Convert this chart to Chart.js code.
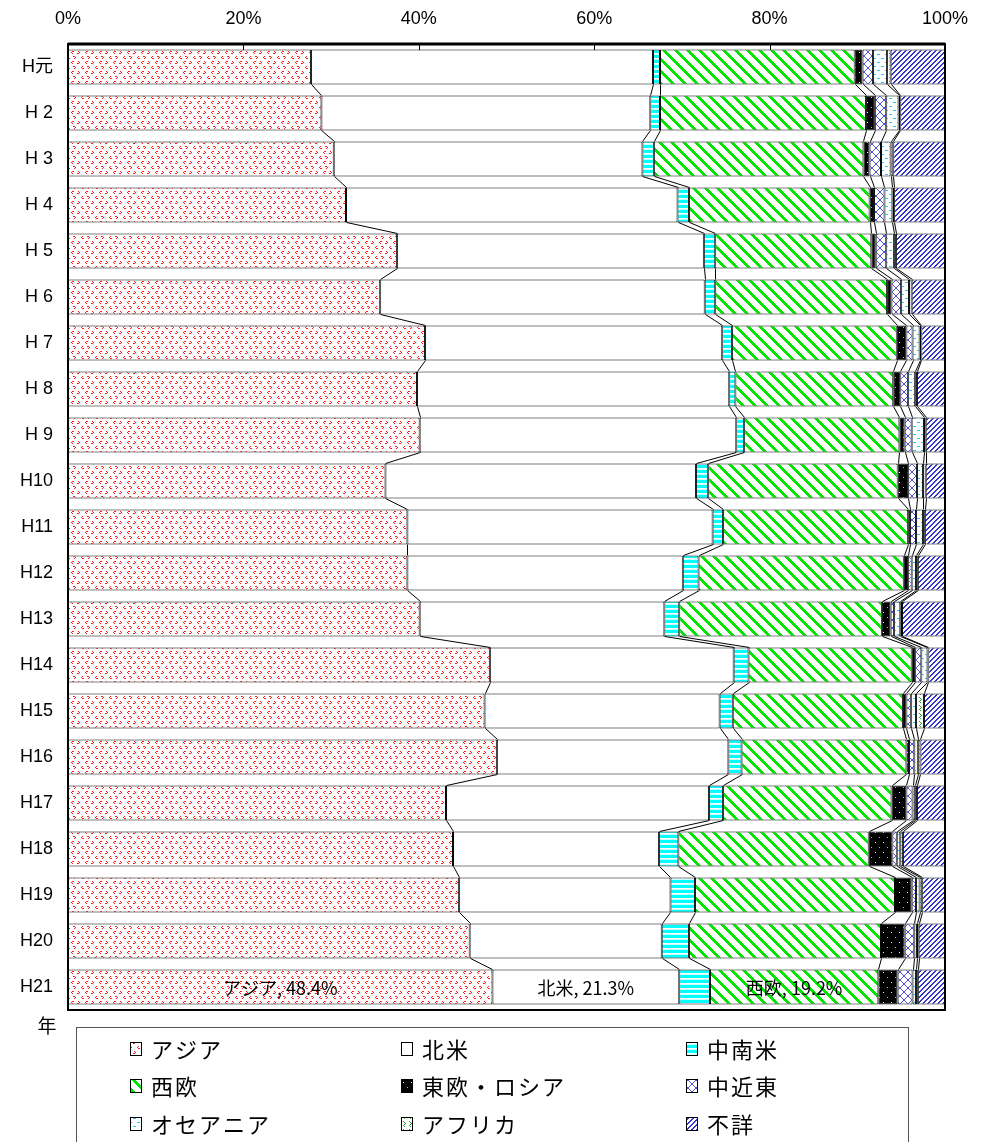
<!DOCTYPE html>
<html>
<head>
<meta charset="utf-8">
<script src="https://cdn.jsdelivr.net/npm/chart.js@4.4.1/dist/chart.umd.min.js"></script>
<style>
  html, body { margin: 0; padding: 0; background: #ffffff; }
  canvas { display: block; }
</style>
</head>
<body>
<canvas id="c" width="989" height="1142"></canvas>
<script>
// ---------------- DATA ----------------
const categories = ['H元','H 2','H 3','H 4','H 5','H 6','H 7','H 8','H 9','H10','H11','H12','H13','H14','H15','H16','H17','H18','H19','H20','H21'];
const seriesNames = ['アジア','北米','中南米','西欧','東欧・ロシア','中近東','オセアニア','アフリカ','不詳'];
const xTickValues = [0, 20, 40, 60, 80, 100];

const asia          = [27.7,28.9,30.3,31.7,37.5,35.6,40.7,39.8,40.1,36.2,38.7,38.7,40.1,48.1,47.5,48.9,43.1,43.9,44.6,45.8,48.4];
const northAmerica  = [39.0,37.5,35.2,37.8,35.0,37.0,33.9,35.6,36.1,35.4,34.8,31.4,27.9,27.8,26.8,26.4,30.0,23.5,24.1,21.9,21.3];
const latinAmerica  = [0.8,1.1,1.3,1.3,1.3,1.2,1.1,0.7,0.9,1.4,1.2,1.8,1.7,1.7,1.5,1.5,1.6,2.2,2.8,3.1,3.5];
const westernEurope = [22.2,23.5,23.9,20.6,17.8,19.6,18.8,18.0,17.7,21.6,21.1,23.4,23.1,18.6,19.4,18.8,19.2,21.7,22.8,21.9,19.2];
const easternEurope = [0.9,1.0,0.7,0.5,0.5,0.5,1.1,0.8,0.6,1.2,0.2,0.5,1.0,0.4,0.4,0.3,1.7,2.7,1.9,2.7,2.2];
const middleEast    = [1.2,1.3,1.3,1.2,1.2,1.1,0.7,0.9,0.8,1.0,0.7,0.4,0.4,0.7,0.5,0.6,0.7,0.5,0.5,1.1,1.7];
const oceania       = [1.6,1.4,1.1,0.9,0.9,0.9,0.8,0.8,1.4,0.7,0.8,0.5,0.7,0.7,0.6,0.4,0.3,0.4,0.4,0.3,0.4];
const africa        = [0.4,0.2,0.3,0.2,0.2,0.3,0.2,0.2,0.2,0.3,0.2,0.2,0.2,0.1,0.9,0.3,0.2,0.3,0.3,0.2,0.2];
const unknown       = [6.2,5.1,5.9,5.8,5.6,3.8,2.7,3.2,2.2,2.2,2.3,3.1,4.9,1.9,2.4,2.8,3.2,4.8,2.6,3.0,3.1];

const seriesValues = [asia, northAmerica, latinAmerica, westernEurope, easternEurope, middleEast, oceania, africa, unknown];
const labelledSeries = [0, 1, 3]; // series that carry a data label on the last category

// ---------------- PATTERNS ----------------
function makePattern(w, h, bg, draw) {
  const c = document.createElement('canvas');
  c.width = w; c.height = h;
  const g = c.getContext('2d');
  g.fillStyle = bg; g.fillRect(0, 0, w, h);
  draw(g);
  return document.createElement('canvas').getContext('2d').createPattern(c, 'repeat');
}
function px(g, color, pts) { g.fillStyle = color; pts.forEach(p => g.fillRect(p[0], p[1], 1, 1)); }

const pAsia = makePattern(14, 10, '#ffffff', g => {
  const r = '#ff1a1a';
  px(g, r, [[2,1],[1,2],[2,3],[3,1]]);        // <
  px(g, r, [[8,1],[9,2],[8,3],[7,3]]);        // >
  px(g, r, [[4,6],[5,7],[4,8],[3,6]]);        // >
  px(g, r, [[12,6],[11,7],[12,8],[13,8]]);    // <
});
const pLatin = makePattern(4, 5, '#00ffff', g => {
  g.fillStyle = '#ffffff'; g.fillRect(0, 3, 4, 1);
  g.fillStyle = '#c8ffff'; g.fillRect(0, 4, 4, 1);
});
const pWest = makePattern(12, 12, '#ffffff', g => {
  g.fillStyle = '#00e600';
  for (let y = 0; y < 12; y++) for (let x = 0; x < 12; x++) {
    const d = ((x - y) % 12 + 12) % 12;
    if (d < 4) g.fillRect(x, y, 1, 1);
  }
});
const pEast = makePattern(8, 10, '#000000', g => {
  px(g, '#ffffff', [[3,2]]);
  px(g, '#bbbbbb', [[7,7]]);
});
const pMid = makePattern(8, 8, '#ffffff', g => {
  g.fillStyle = '#5050dd';
  for (let i = 0; i < 8; i++) { g.fillRect(i, i, 1, 1); g.fillRect(7 - i, i, 1, 1); }
});
const pOce = makePattern(8, 8, '#ffffff', g => {
  g.fillStyle = '#00d8ff';
  g.fillRect(1, 2, 3, 1);
  g.fillRect(5, 6, 3, 1);
});
const pAfr = makePattern(6, 8, '#ffffff', g => {
  px(g, '#30a030', [[1,1],[2,2],[3,3],[2,4],[1,5],[2,6]]);
});
const pUnk = makePattern(5, 5, '#ffffff', g => {
  g.fillStyle = '#3535cc';
  for (let y = 0; y < 5; y++) for (let x = 0; x < 5; x++) {
    const d = (x + y) % 5;
    if (d < 2) g.fillRect(x, y, 1, 1);
  }
});
const fills = [pAsia, '#ffffff', pLatin, pWest, pEast, pMid, pOce, pAfr, pUnk];

// ---------------- FONTS ----------------
const latinFont = "'Liberation Sans Narrow', 'Liberation Sans', Arial, 'Noto Sans CJK JP', sans-serif";
const jpFont = "'Noto Sans CJK JP', 'Liberation Sans', sans-serif";
Chart.defaults.font.family = latinFont;
Chart.defaults.color = '#000000';

// ---------------- PLUGIN ----------------
const decor = {
  id: 'decor',
  afterDatasetsDraw(chart) {
    const ctx = chart.ctx;
    const xs = chart.scales.x;
    const area = chart.chartArea;
    const metas = chart.data.datasets.map((d, i) => chart.getDatasetMeta(i));
    const n = categories.length;

    // series lines between consecutive bars
    ctx.save();
    ctx.strokeStyle = '#000000';
    ctx.lineWidth = 1;
    for (let k = 1; k < seriesValues.length; k++) {
      for (let i = 0; i < n - 1; i++) {
        let c1 = 0, c2 = 0;
        for (let s = 0; s < k; s++) { c1 += seriesValues[s][i]; c2 += seriesValues[s][i + 1]; }
        const e1 = metas[0].data[i], e2 = metas[0].data[i + 1];
        const y1 = e1.y + e1.height / 2, y2 = e2.y - e2.height / 2;
        ctx.beginPath();
        ctx.moveTo(Math.round(xs.getPixelForValue(c1)) + 0.5, y1);
        ctx.lineTo(Math.round(xs.getPixelForValue(c2)) + 0.5, y2);
        ctx.stroke();
      }
    }
    ctx.restore();

    // data labels on the last category
    ctx.save();
    ctx.font = "18px " + jpFont;
    ctx.fillStyle = '#000000';
    ctx.textAlign = 'center';
    ctx.textBaseline = 'middle';
    const last = n - 1;
    labelledSeries.forEach(s => {
      const el = metas[s].data[last];
      const cx = (el.x + el.base) / 2;
      ctx.fillText(seriesNames[s] + ', ' + seriesValues[s][last].toFixed(1) + '%', cx, el.y + 1);
    });
    ctx.restore();

    // plot frame and inward tick marks
    ctx.save();
    ctx.strokeStyle = '#000000';
    ctx.lineWidth = 2;
    ctx.strokeRect(area.left, area.top, area.right - area.left, area.bottom - area.top);
    ctx.lineWidth = 3;
    ctx.beginPath();
    ctx.moveTo(area.left, area.top); ctx.lineTo(area.right, area.top);
    ctx.stroke();
    ctx.lineWidth = 1;
    xTickValues.forEach(v => {
      const x = Math.round(xs.getPixelForValue(v)) + 0.5;
      ctx.beginPath();
      ctx.moveTo(x, area.top);
      ctx.lineTo(x, area.top + 6);
      ctx.stroke();
    });
    ctx.restore();
  },
  afterDraw(chart) {
    const ctx = chart.ctx;
    ctx.save();
    // "年" axis caption
    ctx.font = "19px " + jpFont;
    ctx.fillStyle = '#000000';
    ctx.textAlign = 'center';
    ctx.textBaseline = 'middle';
    ctx.fillText('年', 47, 1026);

    // legend box
    ctx.strokeStyle = '#555555';
    ctx.lineWidth = 1;
    ctx.strokeRect(76.5, 1027.5, 832, 130);

    const colX = [130, 401, 686];
    const rowY = [1049, 1086, 1124];
    ctx.font = "22px " + jpFont;
    try { ctx.letterSpacing = '2px'; } catch (e) {}
    ctx.textAlign = 'left';
    seriesNames.forEach((name, i) => {
      const cx = colX[i % 3], cy = rowY[Math.floor(i / 3)];
      ctx.fillStyle = fills[i];
      ctx.fillRect(cx, cy - 7, 12, 14);
      ctx.strokeStyle = '#000000';
      ctx.strokeRect(cx + 0.5, cy - 6.5, 11, 13);
      ctx.fillStyle = '#000000';
      ctx.fillText(name, cx + 21, cy + 1);
    });
    ctx.restore();
  }
};

// ---------------- CHART ----------------
new Chart(document.getElementById('c'), {
  type: 'bar',
  data: {
    labels: categories,
    datasets: seriesNames.map((name, i) => ({
      label: name,
      data: seriesValues[i],
      backgroundColor: fills[i],
      borderColor: '#000000',
      borderWidth: 1,
      borderSkipped: false,
      categoryPercentage: 1.0,
      barPercentage: 0.76
    }))
  },
  options: {
    indexAxis: 'y',
    responsive: false,
    animation: false,
    devicePixelRatio: 1,
    layout: { padding: { left: 0, right: 44, top: 0, bottom: 132 } },
    plugins: {
      legend: { display: false },
      tooltip: { enabled: false }
    },
    scales: {
      x: {
        position: 'top',
        stacked: true,
        min: 0,
        max: 100,
        afterBuildTicks(scale) { scale.ticks = xTickValues.map(v => ({ value: v })); },
        afterFit(scale) { scale.height = 44; },
        grid: { display: false, drawTicks: false },
        border: { display: false },
        ticks: {
          padding: 14,
          maxRotation: 0,
          font: { size: 18 },
          callback: v => v + '%'
        }
      },
      y: {
        stacked: true,
        afterFit(scale) { scale.width = 68; },
        grid: { display: false, drawTicks: false },
        border: { display: false },
        ticks: {
          padding: 15,
          font: { size: 18 }
        }
      }
    }
  },
  plugins: [decor]
});
</script>
</body>
</html>
